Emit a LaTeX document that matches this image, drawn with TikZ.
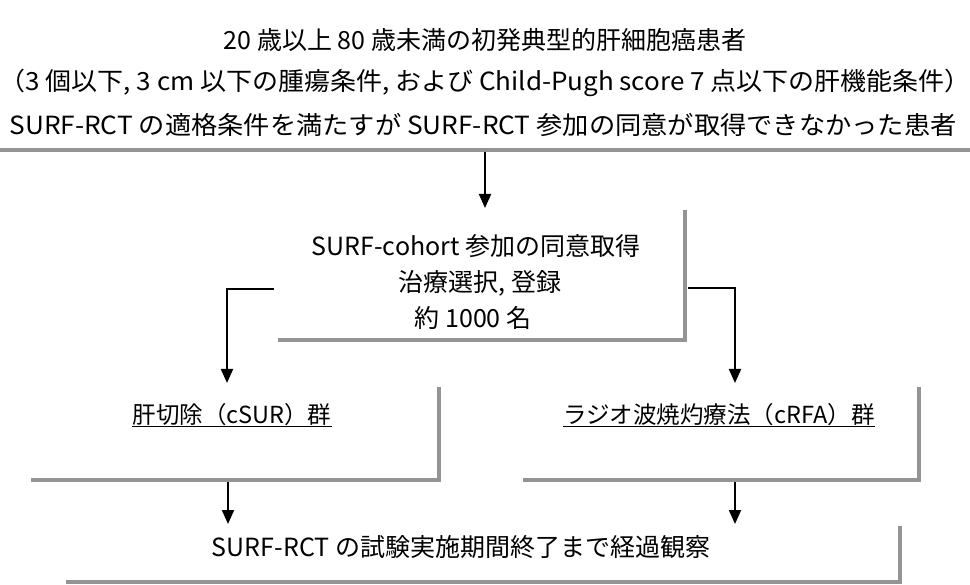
\documentclass[tikz,border=0pt]{standalone}
\usepackage{fontspec}
\usepackage{graphicx}
\setmainfont{Noto Sans CJK JP}
\usetikzlibrary{arrows.meta}
\begin{document}
\begin{tikzpicture}[x=1pt,y=-1pt,
  txt/.style={font=\fontsize{25}{30}\selectfont, inner sep=0pt, anchor=center},
  grp/.style={font=\fontsize{23.5}{28}\selectfont, inner sep=0pt, anchor=center},
  shadeline/.style={draw=black!42, line width=4pt, line cap=rect},
  conn/.style={draw=black, line width=2pt, -{Triangle[width=12pt,length=14pt]}},
  uline/.style={draw=black, line width=1.3pt}
]
\useasboundingbox[fill=white] (0,0) rectangle (970,585);
% top block
\node[txt] (t1) at (485,40) {20 歳以上 80 歳未満の初発典型的肝細胞癌患者};
\node[txt] (t2) at (485,83) {\scalebox{1.04}[1]{（3 個以下, 3 cm 以下の腫瘍条件, および Child-Pugh score 7 点以下の肝機能条件）}};
\node[txt] (t3) at (483,125) {\scalebox{1.05}[1]{SURF-RCT の適格条件を満たすが SURF-RCT 参加の同意が取得できなかった患者}};
\draw[shadeline] (2,150) -- (970,150);
\coordinate (topout) at (485,152);
% middle block
\node[txt] (m1) at (476,246) {SURF-cohort 参加の同意取得};
\node[txt] (m2) at (480,283) {治療選択, 登録};
\node[txt] (m3) at (473,318) {約 1000 名};
\draw[shadeline] (280,340) -- (685,340) -- (685,212);
\coordinate (midin) at (485,208);
\draw[conn] (topout) -- (midin);
% branches
\coordinate (lstart) at (274,289);
\coordinate (rstart) at (688,288);
\node[grp] (g1) at (232,415) {肝切除（cSUR）群};
\node[grp] (g2) at (719,415) {ラジオ波焼灼療法（cRFA）群};
\draw[uline] ([yshift=0pt]g1.south west) -- ([yshift=0pt]g1.south east);
\draw[uline] ([yshift=0pt]g2.south west) -- ([yshift=0pt]g2.south east);
\coordinate (g1in) at (227,383);
\coordinate (g2in) at (735,383);
\draw[conn] (lstart) -| (g1in);
\draw[conn] (rstart) -| (g2in);
\draw[shadeline] (33,480) -- (439,480) -- (439,389);
\draw[shadeline] (525,480) -- (919,480) -- (919,389);
% bottom block
\coordinate (g1out) at (228,482);
\coordinate (g2out) at (735,482);
\node[txt] (b1) at (461,547) {SURF-RCT の試験実施期間終了まで経過観察};
\coordinate (b1inl) at (228,524);
\coordinate (b1inr) at (735,524);
\draw[conn] (g1out) -- (b1inl);
\draw[conn] (g2out) -- (b1inr);
\draw[shadeline] (68,582) -- (900,582) -- (900,528);
\end{tikzpicture}
\end{document}
